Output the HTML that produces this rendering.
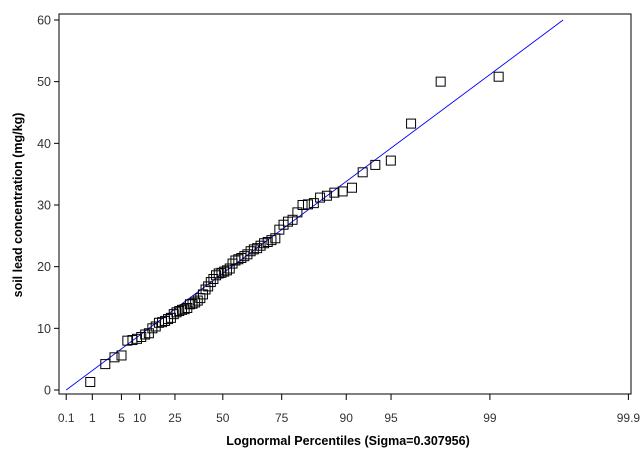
<!DOCTYPE html>
<html><head><meta charset="utf-8"><style>
body{margin:0;background:#fff;}
svg text{font-family:"Liberation Sans",Arial,sans-serif;}
</style></head><body>
<svg id="chart" width="640" height="464" viewBox="0 0 640 464" xmlns="http://www.w3.org/2000/svg">
<rect x="0" y="0" width="640" height="464" fill="#fff"/>
<g id="plot"></g>
</svg>
<script>
const sigma = 0.307956;
const leadValues = [1.3,4.2,5.3,5.6,8.0,8.1,8.3,8.6,9.0,9.2,
10.0,10.3,10.9,11.0,11.2,11.5,11.7,12.3,12.6,12.8,
13.0,13.1,13.3,13.9,14.0,14.2,14.5,14.9,15.5,16.3,
16.8,17.5,18.0,18.6,18.9,19.0,19.2,19.4,19.7,20.5,
21.0,21.2,21.4,21.7,22.0,22.5,22.8,23.0,23.4,23.8,
24.0,24.3,24.6,26.0,26.8,27.3,27.6,28.8,30.0,30.1,
30.3,31.2,31.5,32.0,32.2,32.8,35.3,36.5,37.2,43.2,
50.0,50.8];
const xTickPercents = [0.1,1,5,10,25,50,75,90,95,99,99.9];
const yTicks = [0,10,20,30,40,50,60];
const refLineVX = [0.386, 2.334];
const refLineY = [0, 60];

const NS="http://www.w3.org/2000/svg";
const g=document.getElementById('plot');
function el(t,a){const e=document.createElementNS(NS,t);for(const k in a)e.setAttribute(k,a[k]);g.appendChild(e);return e;}
function probit(p){
 const a=[-39.6968302866538,220.946098424521,-275.928510446969,138.357751867269,-30.6647980661472,2.50662827745924];
 const b=[-54.4760987982241,161.585836858041,-155.698979859887,66.8013118877197,-13.2806815528857];
 const c=[-0.00778489400243029,-0.322396458041136,-2.40075827716184,-2.54973253934373,4.37466414146497,2.93816398269878];
 const d=[0.00778469570904146,0.32246712907004,2.445134137143,3.75440866190742];
 const pl=0.02425;let q,r;
 if(p<pl){q=Math.sqrt(-2*Math.log(p));return (((((c[0]*q+c[1])*q+c[2])*q+c[3])*q+c[4])*q+c[5])/((((d[0]*q+d[1])*q+d[2])*q+d[3])*q+1);}
 if(p>1-pl){q=Math.sqrt(-2*Math.log(1-p));return -(((((c[0]*q+c[1])*q+c[2])*q+c[3])*q+c[4])*q+c[5])/((((d[0]*q+d[1])*q+d[2])*q+d[3])*q+1);}
 q=p-0.5;r=q*q;return (((((a[0]*r+a[1])*r+a[2])*r+a[3])*r+a[4])*r+a[5])*q/(((((b[0]*r+b[1])*r+b[2])*r+b[3])*r+b[4])*r+1);
}
const vOf=p=>Math.exp(sigma*probit(p));
const v0=vOf(0.001), v1=vOf(0.999);
const X=v=>66.2+(v-v0)*(628.4-66.2)/(v1-v0);
const Y=y=>390-y*6.167;
const L=59, R=631, T=14, B=394;

let e=el('rect',{x:L,y:T,width:R-L,height:B-T,fill:'none',stroke:'#000','stroke-width':1});


yTicks.forEach(t=>{
 let y=Y(t);
 let l=el('line',{x1:L-5,x2:L,y1:y,y2:y,stroke:'#000'});
 
 let tx=el('text',{x:L-8,y:y+4.5,'text-anchor':'end','font-size':12.5,fill:'#333'});tx.textContent=t;
 
});
xTickPercents.forEach(p=>{
 let x=X(vOf(p/100));
 let l=el('line',{x1:x,x2:x,y1:B,y2:B+6,stroke:'#000'});
 
 let tx=el('text',{x:x,y:422,'text-anchor':'middle','font-size':12,fill:'#333'});tx.textContent=p;
 
});
e=el('text',{x:348,y:445,'text-anchor':'middle','font-size':12.5,'font-weight':'bold'});
e.textContent='Lognormal Percentiles (Sigma=0.307956)';

e=el('text',{x:0,y:0,'text-anchor':'middle','font-size':12.5,'font-weight':'bold',transform:'translate(22,205) rotate(-90)'});
e.textContent='soil lead concentration (mg/kg)';


e=el('line',{x1:X(refLineVX[0]),y1:Y(refLineY[0]),x2:X(refLineVX[1]),y2:Y(refLineY[1]),stroke:'#0000ff','stroke-width':0.9});


const n=leadValues.length;
const sorted=leadValues.slice().sort((a,b)=>a-b);
sorted.forEach((y,i)=>{
 const p=(i+1-0.375)/(n+0.25);
 const cx=X(vOf(p)), cy=Y(y);
 let r=el('rect',{x:cx-4.5,y:cy-4.5,width:9,height:9,fill:'none',stroke:'#000','stroke-width':1});
 
});
</script>
</body></html>
